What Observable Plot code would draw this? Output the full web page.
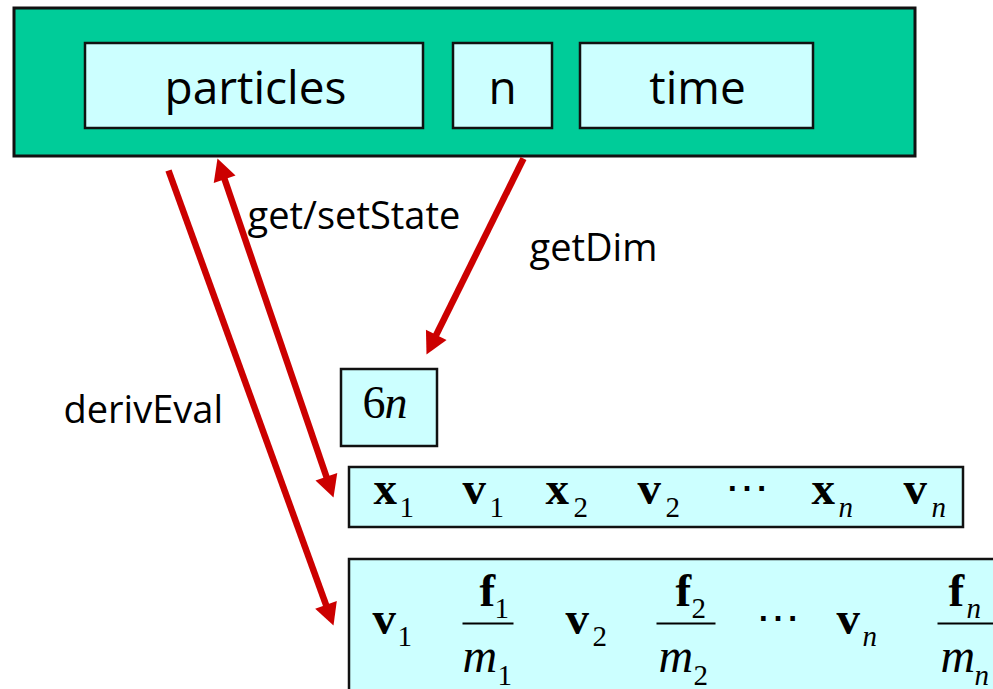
<!DOCTYPE html>
<html><head><meta charset="utf-8">
<script src="https://cdn.jsdelivr.net/npm/d3@7"></script>
<script src="https://cdn.jsdelivr.net/npm/@observablehq/plot@0.6"></script>
<style>html,body{margin:0;padding:0;background:#fff;overflow:hidden} svg{display:block}</style>
</head><body><div id="chart"></div>
<script>
const W = 993, H = 689;
const GREEN = "#00CC99", CYAN = "#CCFFFF", RED = "#CC0000";

// Boxes (diagram geometry)
const boxNames = ["struct", "particles", "n", "time", "dim", "state", "deriv"];
const boxX1 = [14, 85, 453, 580, 341, 349, 349];
const boxX2 = [915, 423, 552, 813, 437, 963, 1010];
const boxY1 = [8, 43, 43, 43, 369, 467, 559];
const boxY2 = [156, 128, 128, 128, 446, 527, 700];
const boxFill = [GREEN, CYAN, CYAN, CYAN, CYAN, CYAN, CYAN];
const boxStrokeW = [3, 2.5, 2.5, 2.5, 2.5, 2.5, 2.5];

// Field labels in the struct
const fieldText = ["particles", "n", "time"];
const fieldX = [255, 502, 697];
const fieldY = [103, 103, 103];

// Arrows
const arrowLabel = ["derivEval", "get/setState", "getDim"];
const arrowX1 = [168, 217, 523];
const arrowY1 = [170, 158, 158];
const arrowX2 = [333, 333, 426];
const arrowY2 = [625, 497, 354];
const arrowHeadStart = [false, true, false];
const arrowHeadEnd = [true, true, true];
const labelX = [63, 247, 529];
const labelY = [422, 228, 260];

// "6n" box
const dimParts = ["6", "n"];
const dimX = [362, 384];
const dimStyle = ["normal", "italic"];
const dimBaseline = 417;

// State vector row
const stateBase = ["x", "v", "x", "v", "⋯", "x", "v"];
const stateBaseX = [373, 462, 545, 637, 724, 811, 903];
const stateSub = ["1", "1", "2", "2", "", "n", "n"];
const stateSubX = [399, 489, 573, 665, 0, 838, 931];
const stateBaseline = 503, stateSubBaseline = 516;

// Derivative row
const derivBase = ["v", "v", "⋯", "v"];
const derivBaseX = [372, 565, 755, 836];
const derivSub = ["1", "2", "", "n"];
const derivSubX = [397, 592, 0, 862];
const derivBaseline = 633, derivSubBaseline = 645;
const fracNum = ["1", "2", "n"];
const fracFX = [479, 675, 948];
const fracFSubX = [494, 691, 966];
const fracMX = [462, 658, 940];
const fracMSubX = [497, 693, 974];
const fracLineX1 = [462, 656, 937];
const fracLineX2 = [513, 715, 1010];
const fracLineY = 623, fracFBaseline = 605, fracFSubBaseline = 617, fracMBaseline = 671, fracMSubBaseline = 684;

// ---- build tables
const boxes = boxNames.map((n, i) => ({n, x1: boxX1[i], x2: boxX2[i], y1: boxY1[i], y2: boxY2[i], fill: boxFill[i], sw: boxStrokeW[i]}));
const fields = fieldText.map((t, i) => ({t, x: fieldX[i], y: fieldY[i]}));
const labels = arrowLabel.map((t, i) => ({t, x: labelX[i], y: labelY[i]}));

const HL = 22, HW = 11.5;
const links = [], heads = [];
arrowLabel.forEach((_, i) => {
  const x1 = arrowX1[i], y1 = arrowY1[i], x2 = arrowX2[i], y2 = arrowY2[i];
  const len = Math.hypot(x2 - x1, y2 - y1), ux = (x2 - x1) / len, uy = (y2 - y1) / len;
  let sx = x1, sy = y1, ex = x2, ey = y2;
  if (arrowHeadEnd[i]) { ex -= ux * (HL - 3); ey -= uy * (HL - 3); heads.push({x: x2, y: y2, ux, uy}); }
  if (arrowHeadStart[i]) { sx += ux * (HL - 3); sy += uy * (HL - 3); heads.push({x: x1, y: y1, ux: -ux, uy: -uy}); }
  links.push({x1: sx, y1: sy, x2: ex, y2: ey});
});
function headSymbol(ux, uy) {
  return {draw(ctx) {
    const px = -uy, py = ux;
    const bx = -ux * HL, by = -uy * HL;
    ctx.moveTo(0, 0);
    ctx.lineTo(bx + px * HW, by + py * HW);
    ctx.lineTo(bx - px * HW, by - py * HW);
    ctx.closePath();
  }};
}

const serif = "'Liberation Serif', 'Times New Roman', serif";
const sans = "'Open Sans', 'Noto Sans', sans-serif";
const T = (data, o) => Plot.text(data, {x: "x", y: "y", text: "t", textAnchor: "start", lineAnchor: "bottom", fill: "black", ...o});

const stateBases = stateBase.map((t, i) => ({t, x: stateBaseX[i], y: t === "⋯" ? stateBaseline - 2 : stateBaseline, dots: t === "⋯"}));
const stateSubs = stateSub.map((t, i) => ({t, x: stateSubX[i], y: stateSubBaseline, it: t === "n"})).filter(d => d.t);
const derivBases = derivBase.map((t, i) => ({t, x: derivBaseX[i], y: t === "⋯" ? derivBaseline - 2 : derivBaseline, dots: t === "⋯"}));
const derivSubs = derivSub.map((t, i) => ({t, x: derivSubX[i], y: derivSubBaseline, it: t === "n"})).filter(d => d.t);
const fF = fracNum.map((t, i) => ({t: "f", x: fracFX[i], y: fracFBaseline}));
const fFs = fracNum.map((t, i) => ({t, x: fracFSubX[i], y: fracFSubBaseline, it: t === "n"}));
const fM = fracNum.map((t, i) => ({t: "m", x: fracMX[i], y: fracMBaseline}));
const fMs = fracNum.map((t, i) => ({t, x: fracMSubX[i], y: fracMSubBaseline, it: t === "n"}));
const fLines = fracNum.map((t, i) => ({x1: fracLineX1[i], x2: fracLineX2[i], y1: fracLineY, y2: fracLineY}));
const dims = dimParts.map((t, i) => ({t, x: dimX[i], y: dimBaseline, st: dimStyle[i]}));

const bold = d => !d.dots;
const marks = [
  Plot.rect(boxes, {x1: "x1", x2: "x2", y1: "y1", y2: "y2", fill: d => d.fill, stroke: "#111", strokeWidth: d => d.sw}),
  T(fields, {textAnchor: "middle", fontSize: 46, fontFamily: sans}),
  Plot.link(links, {x1: "x1", y1: "y1", x2: "x2", y2: "y2", stroke: RED, strokeWidth: 6.5, strokeLinecap: "butt"}),
  ...heads.map(h => Plot.dot([h], {x: "x", y: "y", r: 10, symbol: headSymbol(h.ux, h.uy), fill: RED, stroke: "none"})),
  T(labels, {fontSize: 38, fontFamily: sans}),
  T(dims.filter(d => d.st === "normal"), {fontSize: 46, fontFamily: serif}),
  T(dims.filter(d => d.st === "italic"), {fontSize: 46, fontFamily: serif, fontStyle: "italic"}),
  T(stateBases.filter(bold), {fontSize: 47, fontFamily: serif, fontWeight: "bold"}),
  T(stateBases.filter(d => d.dots), {fontSize: 44, fontFamily: "'DejaVu Serif', serif"}),
  T(stateSubs.filter(d => !d.it), {fontSize: 29, fontFamily: serif}),
  T(stateSubs.filter(d => d.it), {fontSize: 29, fontFamily: serif, fontStyle: "italic"}),
  T(derivBases.filter(bold), {fontSize: 47, fontFamily: serif, fontWeight: "bold"}),
  T(derivBases.filter(d => d.dots), {fontSize: 44, fontFamily: "'DejaVu Serif', serif"}),
  T(derivSubs.filter(d => !d.it), {fontSize: 29, fontFamily: serif}),
  T(derivSubs.filter(d => d.it), {fontSize: 29, fontFamily: serif, fontStyle: "italic"}),
  Plot.link(fLines, {x1: "x1", y1: "y1", x2: "x2", y2: "y2", stroke: "black", strokeWidth: 2}),
  T(fF, {fontSize: 47, fontFamily: serif, fontWeight: "bold"}),
  T(fFs.filter(d => !d.it), {fontSize: 29, fontFamily: serif}),
  T(fFs.filter(d => d.it), {fontSize: 29, fontFamily: serif, fontStyle: "italic"}),
  T(fM, {fontSize: 48, fontFamily: serif, fontStyle: "italic"}),
  T(fMs.filter(d => !d.it), {fontSize: 29, fontFamily: serif}),
  T(fMs.filter(d => d.it), {fontSize: 29, fontFamily: serif, fontStyle: "italic"})
];

const chart = Plot.plot({
  width: W, height: H, margin: 0,
  x: {domain: [0, W], range: [0, W], axis: null},
  y: {domain: [0, H], range: [0, H], axis: null},
  style: {background: "#fff", overflow: "hidden"},
  marks
});
document.getElementById("chart").appendChild(chart);
</script>
</body></html>
